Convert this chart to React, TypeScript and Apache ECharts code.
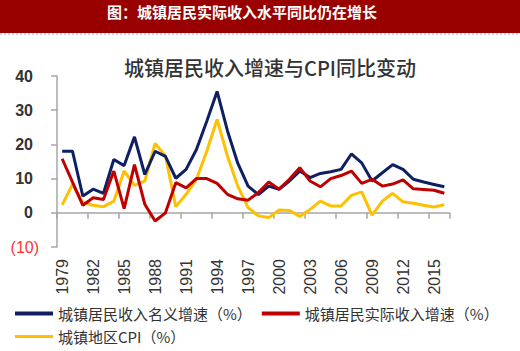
import React, { useEffect, useRef } from "react";
import * as echarts from "echarts";

const years = [
  "1979","1980","1981","1982","1983","1984","1985","1986","1987","1988",
  "1989","1990","1991","1992","1993","1994","1995","1996","1997","1998",
  "1999","2000","2001","2002","2003","2004","2005","2006","2007","2008",
  "2009","2010","2011","2012","2013","2014","2015","2016",
];

const nominalGrowth = [
  18.0, 18.0, 4.9, 6.9, 5.7, 15.6, 13.8, 22.2, 11.2, 18.0,
  16.5, 10.1, 12.7, 18.5, 26.8, 35.5, 24.0, 14.5, 7.8, 5.3,
  7.8, 6.9, 9.3, 12.2, 10.3, 11.5, 12.0, 12.7, 17.2, 14.6,
  9.3, 11.7, 14.1, 12.7, 9.8, 9.0, 8.3, 7.6,
];

const realGrowth = [
  15.8, 9.0, 2.2, 4.4, 3.9, 12.2, 1.2, 14.1, 2.5, -2.4,
  0.0, 8.8, 7.3, 10.0, 10.0, 8.6, 5.4, 4.1, 3.7, 5.9,
  9.0, 6.9, 9.8, 13.2, 9.3, 7.6, 10.0, 10.9, 12.2, 8.6,
  9.8, 7.8, 8.4, 9.6, 7.0, 6.8, 6.6, 5.7,
];

const urbanCPI = [
  2.3, 8.3, 3.0, 2.2, 1.8, 3.4, 12.2, 8.0, 9.3, 20.3,
  16.6, 1.8, 5.4, 9.8, 18.0, 27.3, 16.6, 7.8, 1.5, -0.9,
  -1.4, 0.8, 0.7, -1.1, 1.0, 3.4, 2.0, 2.0, 5.1, 6.1,
  -0.7, 3.4, 5.7, 3.2, 2.8, 2.2, 1.7, 2.4,
];

const seriesNames = [
  "城镇居民收入名义增速（%）",
  "城镇居民实际收入增速（%）",
  "城镇地区CPI（%）",
];

const headerText = "图：城镇居民实际收入水平同比仍在增长";
const chartTitle = "城镇居民收入增速与CPI同比变动";

const NAVY = "#0f1f63";
const RED = "#c00000";
const GOLD = "#ffc000";

export default function App() {
  const ref = useRef<HTMLDivElement>(null);

  useEffect(() => {
    if (!ref.current) return;
    const chart = echarts.init(ref.current, undefined, { renderer: "svg" });
    const cjk = "'Noto Sans CJK SC', 'Noto Sans', sans-serif";
    chart.setOption({
      animation: false,
      backgroundColor: "#ffffff",
      textStyle: { fontFamily: cjk },
      graphic: [
        {
          type: "rect",
          left: 0,
          top: 0,
          shape: { width: 520, height: 33 },
          style: { fill: "#990000" },
          silent: true,
        },
        {
          type: "line",
          shape: { x1: 0, y1: 34, x2: 520, y2: 34 },
          style: { stroke: "#8ea6d6", lineWidth: 1, lineDash: [2, 2] },
          silent: true,
        },
        {
          type: "text",
          x: 242,
          y: 11,
          style: {
            text: headerText,
            fill: "#ffffff",
            font: "bold 15px 'Noto Sans CJK SC', sans-serif",
            textAlign: "center",
            textVerticalAlign: "middle",
          },
          silent: true,
        },
      ],
      title: {
        text: chartTitle,
        left: 265,
        top: 52,
        textAlign: "center",
        textStyle: {
          fontFamily: cjk,
          fontSize: 20,
          fontWeight: 500,
          color: "#333333",
        },
      },
      legend: [
        {
          data: [seriesNames[0], seriesNames[1]],
          left: 10,
          top: 301,
          icon: "rect",
          itemWidth: 38,
          itemHeight: 4,
          itemGap: 10,
          textStyle: { fontFamily: cjk, fontSize: 15, color: "#333333" },
        },
        {
          data: [seriesNames[2]],
          left: 10,
          top: 324,
          icon: "rect",
          itemWidth: 38,
          itemHeight: 3,
          textStyle: { fontFamily: cjk, fontSize: 15, color: "#333333" },
        },
      ],
      grid: { left: 57, right: 70.5, top: 76, bottom: 104, containLabel: false },
      xAxis: {
        type: "category",
        data: years,
        boundaryGap: true,
        axisLine: { onZero: true, lineStyle: { color: "#a6a6a6", width: 1.5 } },
        axisTick: {
          show: true,
          interval: 2,
          length: 6,
          lineStyle: { color: "#a6a6a6", width: 1.5 },
        },
        axisLabel: {
          interval: 2,
          rotate: 90,
          margin: 12,
          fontFamily: "'Liberation Sans', Arial, sans-serif",
          fontSize: 16,
          color: "#333333",
        },
        splitLine: { show: false },
      },
      yAxis: {
        type: "value",
        min: -10,
        max: 40,
        interval: 10,
        axisLine: { show: true, lineStyle: { color: "#a6a6a6", width: 1.5 } },
        axisTick: { show: true, length: 6, lineStyle: { color: "#a6a6a6", width: 1.5 } },
        splitLine: { show: false },
        axisLabel: {
          margin: 18,
          formatter: (v: number) =>
            v < 0 ? `{neg|(${-v})}` : `{pos|${v}}`,
          rich: {
            pos: {
              fontFamily: "'Liberation Sans', Arial, sans-serif",
              fontSize: 16,
              fontWeight: "bold",
              color: "#333333",
              padding: [0, 6, 0, 0],
            },
            neg: {
              fontFamily: "'Liberation Sans', Arial, sans-serif",
              fontSize: 16,
              color: "#ff3333",
            },
          },
        },
      },
      series: [
        {
          name: seriesNames[0],
          type: "line",
          data: nominalGrowth,
          symbol: "none",
          lineStyle: { color: NAVY, width: 3 },
          itemStyle: { color: NAVY },
          z: 3,
        },
        {
          name: seriesNames[1],
          type: "line",
          data: realGrowth,
          symbol: "none",
          lineStyle: { color: RED, width: 3 },
          itemStyle: { color: RED },
          z: 4,
        },
        {
          name: seriesNames[2],
          type: "line",
          data: urbanCPI,
          symbol: "none",
          lineStyle: { color: GOLD, width: 3 },
          itemStyle: { color: GOLD },
          z: 2,
        },
      ],
    });
    return () => chart.dispose();
  }, []);

  return (
    <div
      ref={ref}
      style={{ position: "absolute", left: 0, top: 0, width: 520, height: 351 }}
    />
  );
}
